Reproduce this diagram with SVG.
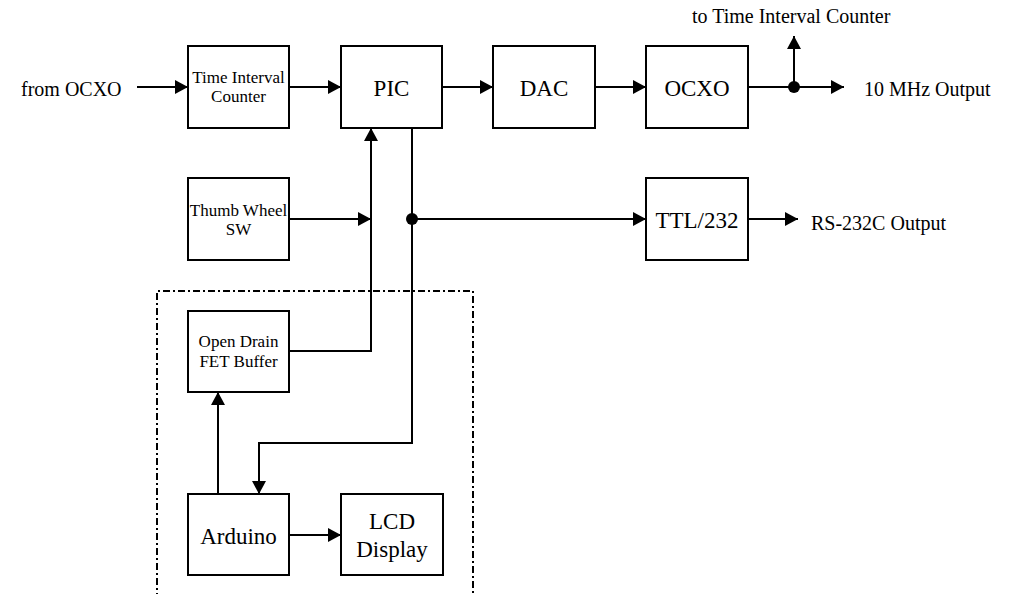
<svg xmlns="http://www.w3.org/2000/svg" width="1011" height="594" viewBox="0 0 1011 594">
  <style>
    .box { fill: #fff; stroke: #000; stroke-width: 2; }
    .wire { fill: none; stroke: #000; stroke-width: 2; }
    .arr { marker-end: url(#head); }
    .big { font-family: "Liberation Serif", "Times New Roman", serif; font-size: 23px; fill: #000; text-anchor: middle; }
    .small { font-family: "Liberation Serif", "Times New Roman", serif; font-size: 17px; fill: #000; text-anchor: middle; }
    .label { font-family: "Liberation Serif", "Times New Roman", serif; font-size: 20px; fill: #000; }
    .frame { fill: none; stroke: #000; stroke-width: 2; stroke-dasharray: 7 3 2 3; }
  </style>
  <defs>
    <marker id="head" markerUnits="userSpaceOnUse" markerWidth="14" markerHeight="14" viewBox="0 0 14 14" refX="13" refY="7" orient="auto">
      <path d="M0,0 L13,7 L0,14 Z" fill="#000"/>
    </marker>
  </defs>

  <rect width="1011" height="594" fill="#fff"/>

  <!-- Arduino-side section boundary -->
  <path class="frame" d="M157,600 L157,291 L473,291 L473,600"/>

  <!-- connectors -->
  <g id="connectors">
    <line class="wire arr" x1="137" y1="87" x2="188" y2="87"/>
    <line class="wire arr" x1="289" y1="87" x2="341" y2="87"/>
    <line class="wire arr" x1="442" y1="87" x2="493" y2="87"/>
    <line class="wire arr" x1="595" y1="87" x2="646" y2="87"/>
    <line class="wire arr" x1="748" y1="87" x2="844" y2="87"/>
    <line class="wire arr" x1="794" y1="87" x2="794" y2="36"/>
    <circle cx="794" cy="87" r="6" fill="#000"/>

    <line class="wire arr" x1="289" y1="219" x2="371" y2="219"/>
    <polyline class="wire arr" points="289,351 371,351 371,128"/>

    <polyline class="wire arr" points="412,128 412,443 259,443 259,494"/>
    <line class="wire arr" x1="412" y1="219" x2="646" y2="219"/>
    <circle cx="412" cy="219" r="6" fill="#000"/>

    <line class="wire arr" x1="748" y1="219" x2="798" y2="219"/>

    <line class="wire arr" x1="218" y1="494" x2="218" y2="392"/>
    <line class="wire arr" x1="289" y1="535" x2="341" y2="535"/>
  </g>

  <!-- free labels -->
  <text class="label" x="21" y="96">from OCXO</text>
  <text class="label" x="692" y="23">to Time Interval Counter</text>
  <text class="label" x="864" y="96">10 MHz Output</text>
  <text class="label" x="811" y="230">RS-232C Output</text>

  <g id="tic">
    <rect class="box" x="188" y="46" width="101" height="82"/>
    <text class="small" x="238.5" y="83">Time Interval</text>
    <text class="small" x="238.5" y="102">Counter</text>
  </g>
  <g id="pic">
    <rect class="box" x="341" y="46" width="101" height="82"/>
    <text class="big" x="391.5" y="96">PIC</text>
  </g>
  <g id="dac">
    <rect class="box" x="493" y="46" width="102" height="82"/>
    <text class="big" x="544" y="96">DAC</text>
  </g>
  <g id="ocxo">
    <rect class="box" x="646" y="46" width="102" height="82"/>
    <text class="big" x="697" y="96">OCXO</text>
  </g>
  <g id="thumbwheel">
    <rect class="box" x="188" y="178" width="101" height="82"/>
    <text class="small" x="238.5" y="216">Thumb Wheel</text>
    <text class="small" x="238.5" y="235">SW</text>
  </g>
  <g id="ttl232">
    <rect class="box" x="646" y="178" width="102" height="82"/>
    <text class="big" x="697" y="228">TTL/232</text>
  </g>
  <g id="fetbuffer">
    <rect class="box" x="188" y="311" width="101" height="81"/>
    <text class="small" x="238.5" y="347">Open Drain</text>
    <text class="small" x="238.5" y="367">FET Buffer</text>
  </g>
  <g id="arduino">
    <rect class="box" x="188" y="494" width="101" height="81"/>
    <text class="big" x="238.5" y="544">Arduino</text>
  </g>
  <g id="lcd">
    <rect class="box" x="341" y="494" width="102" height="81"/>
    <text class="big" x="392" y="529">LCD</text>
    <text class="big" x="392" y="557">Display</text>
  </g>
</svg>
